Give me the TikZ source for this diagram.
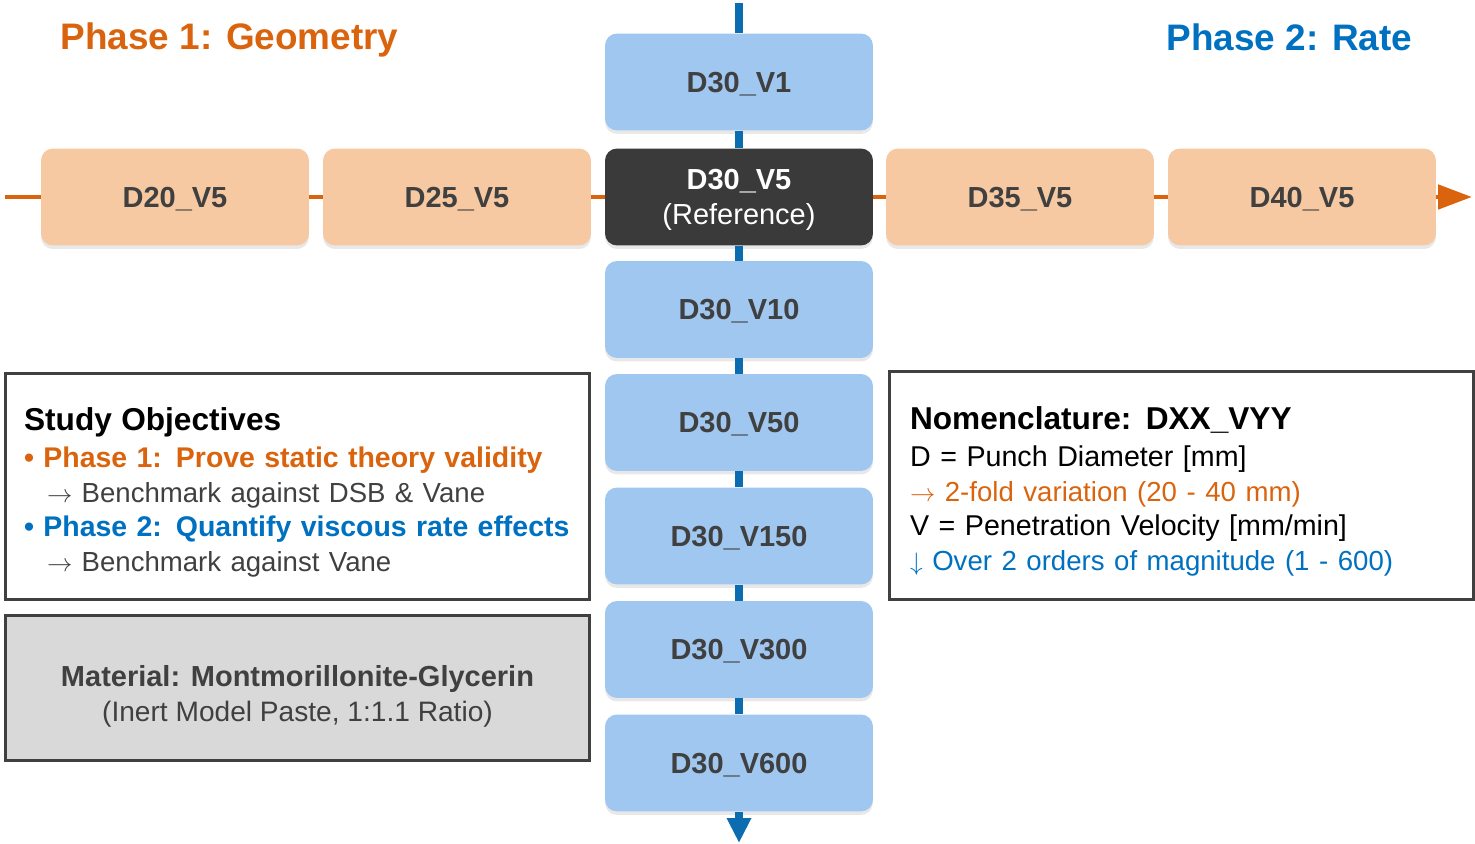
\documentclass[tikz,border=0pt]{standalone}
\usepackage{fontspec}
\setmainfont{Liberation Sans}
\usetikzlibrary{arrows.meta,shadows}

\definecolor{geoorange}{RGB}{218,100,14}
\definecolor{rateblue}{RGB}{0,112,192}
\definecolor{axisblue}{RGB}{12,108,176}
\definecolor{peach}{RGB}{246,201,162}
\definecolor{skyblue}{RGB}{160,199,240}
\definecolor{refgray}{RGB}{58,58,58}
\definecolor{txtgray}{RGB}{64,64,64}
\definecolor{matgray}{RGB}{217,217,217}

\tikzset{
  case/.style={rounded corners=0.24cm, minimum width=5.36cm, minimum height=1.94cm,
    align=center, text=txtgray, text depth=0pt, font=\fontsize{16.5}{20}\selectfont\bfseries,
    drop shadow={shadow xshift=0cm, shadow yshift=-0.07cm, opacity=0.18}},
  geocase/.style={case, fill=peach},
  ratecase/.style={case, fill=skyblue},
  refcase/.style={case, fill=refgray, text=white},
  infobox/.style={draw=txtgray, line width=1.7pt, minimum width=11.7cm,
    align=left, inner xsep=0pt, font=\fontsize{16}{19.8}\selectfont},
  phasetitle/.style={text depth=0pt, font=\fontsize{21}{25}\selectfont\bfseries},
}
\newcommand{\subsize}{\fontsize{15.7}{19.8}\selectfont}

\begin{document}
\begin{tikzpicture}[x=0.02cm,y=-0.02cm]
\useasboundingbox (0,0) rectangle (1475,844);
% phase titles
\node[phasetitle, text=geoorange] (phase1) at (229.5,36) {Phase 1: Geometry};
\node[phasetitle, text=rateblue] (phase2) at (1289.5,37) {Phase 2: Rate};
% geometry row
\foreach \d/\x in {20/175,25/457,35/1020,40/1302}
  \node[geocase] (d\d) at (\x,197) {D\d\_V5};
\node[refcase] (ref) at (739,197) {D30\_V5\\{\mdseries (Reference)}};
% rate column
\foreach \v/\y in {1/82,10/309.5,50/422.5,150/536,300/649.5,600/763}
  \node[ratecase] (v\v) at (739,\y) {D30\_V\v};
% axes
\coordinate (hstart) at (5,197);
\coordinate (hend) at (1472,197);
\coordinate (vstart) at (739,3);
\coordinate (vend) at (739,843);
\draw[geoorange, line width=2.8pt, -{Triangle[length=0.68cm,width=0.48cm]}]
  (hstart) -- (d20) -- (d25) -- (ref) -- (d35) -- (d40) -- (hend);
\draw[axisblue, line width=4pt, -{Triangle[length=0.5cm,width=0.46cm]}]
  (vstart) -- (v1) -- (ref) -- (v10) -- (v50) -- (v150) -- (v300) -- (v600) -- (vend);
% text boxes
\node[infobox, minimum height=4.54cm, text width=10.94cm] (goals) at (297.5,486.5)
  {{\fontsize{18}{22}\selectfont\bfseries\rule{0pt}{20pt}Study Objectives}\\[1pt]
   {\fontsize{16.2}{19.8}\selectfont\bfseries\color{geoorange}• Phase 1: Prove static theory validity}\\
   \hspace*{0.46cm}{\subsize\color{txtgray}$\rightarrow$ Benchmark against DSB \& Vane}\\
   {\fontsize{16.2}{19.8}\selectfont\bfseries\color{rateblue}• Phase 2: Quantify viscous rate effects}\\
   \hspace*{0.46cm}{\subsize\color{txtgray}$\rightarrow$ Benchmark against Vane}};
\node[infobox, minimum height=4.58cm, text width=10.86cm, font=\fontsize{16.3}{19.8}\selectfont] (names) at (1181.5,485.5)
  {{\fontsize{18}{22}\selectfont\bfseries\rule{0pt}{20pt}Nomenclature: DXX\_VYY}\\[1pt]
   D = Punch Diameter [mm]\\
   {\subsize\color{geoorange}$\rightarrow$ 2-fold variation (20 - 40 mm)}\\
   V = Penetration Velocity [mm/min]\\
   {\subsize\color{rateblue}$\downarrow$ Over 2 orders of magnitude (1 - 600)}};
\node[infobox, fill=matgray, align=center, text=txtgray, minimum height=2.92cm] (paste) at (297.5,688)
  {{\fontsize{16.5}{19.8}\selectfont\bfseries\rule{0pt}{21.5pt}Material: Montmorillonite-Glycerin}\\(Inert Model Paste, 1:1.1 Ratio)};
\end{tikzpicture}
\end{document}
